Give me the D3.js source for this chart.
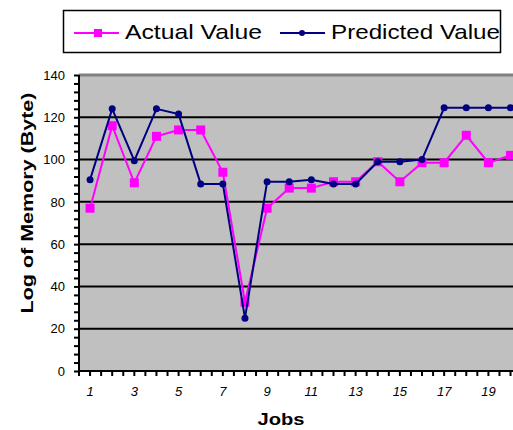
<!DOCTYPE html>
<html>
<head>
<meta charset="utf-8">
<script src="https://cdn.jsdelivr.net/npm/d3@7"></script>
<style>
  body { margin: 0; background: #fff; }
  svg { display: block; font-family: Arial, "Liberation Sans", sans-serif; }
</style>
</head>
<body>
<div id="chart"></div>
<script>
// chart data
const jobs = d3.range(1, 21);
const actualValue = [77, 116, 89, 111, 114, 114, 94, 32.5, 77, 86.5, 86.5, 89.5, 89.5, 99, 89.5, 98.5, 98.5, 111.5, 98.5, 102];
const predictedValue = [90.5, 124, 99.5, 124, 121.5, 88.5, 88.5, 25, 89.5, 89.5, 90.5, 88.5, 88.5, 99, 99, 100, 124.5, 124.5, 124.5, 124.5];
const yTicks = [0, 20, 40, 60, 80, 100, 120, 140];
const xTickLabels = [1, 3, 5, 7, 9, 11, 13, 15, 17, 19];

const width = 513, height = 430;
const plot = { left: 79, top: 75, bottom: 371, right: 521.6 };

const svg = d3.select('#chart').append('svg')
  .attr('width', width)
  .attr('height', height);

const xScale = d3.scaleBand()
  .domain(jobs)
  .range([plot.left, plot.right])
  .padding(0);

const yScale = d3.scaleLinear()
  .domain([0, 140])
  .range([plot.bottom, plot.top]);

const cx = (d) => xScale(d) + xScale.bandwidth() / 2;

// plot area background
svg.append('rect')
  .attr('x', plot.left)
  .attr('y', plot.top)
  .attr('width', plot.right - plot.left)
  .attr('height', plot.bottom - plot.top)
  .attr('fill', '#c0c0c0');

svg.append('line')
  .attr('x1', plot.left).attr('x2', plot.right)
  .attr('y1', plot.top).attr('y2', plot.top)
  .attr('stroke', '#808080')
  .attr('stroke-width', 3);

// gridlines
svg.append('g')
  .selectAll('line')
  .data(yTicks.filter((d) => d > 0 && d < 140))
  .join('line')
  .attr('x1', plot.left).attr('x2', plot.right)
  .attr('y1', (d) => yScale(d)).attr('y2', (d) => yScale(d))
  .attr('stroke', '#000')
  .attr('stroke-width', 2);

// y axis
const yAxis = svg.append('g')
  .attr('transform', `translate(${plot.left},0)`)
  .call(d3.axisLeft(yScale).tickValues(d3.range(0, 141, 4)).tickSize(5).tickFormat(''));
yAxis.select('.domain').attr('stroke-width', 2).attr('d', `M0,${plot.bottom}V${plot.top}`);
yAxis.selectAll('.tick line').attr('stroke-width', 2);

svg.append('g')
  .selectAll('text')
  .data(yTicks)
  .join('text')
  .attr('x', 65)
  .attr('y', (d) => yScale(d))
  .attr('dy', '0.36em')
  .attr('text-anchor', 'end')
  .attr('font-size', 13)
  .text((d) => d);

// x axis
const halfTicks = d3.range(0, 41).map((i) => plot.left + i * xScale.bandwidth() / 2);
svg.append('g')
  .selectAll('line')
  .data(halfTicks)
  .join('line')
  .attr('x1', (d) => d).attr('x2', (d) => d)
  .attr('y1', plot.bottom).attr('y2', plot.bottom + 5)
  .attr('stroke', '#000')
  .attr('stroke-width', 2);

svg.append('line')
  .attr('x1', plot.left - 1).attr('x2', plot.right)
  .attr('y1', plot.bottom).attr('y2', plot.bottom)
  .attr('stroke', '#000')
  .attr('stroke-width', 2);

svg.append('g')
  .selectAll('text')
  .data(xTickLabels)
  .join('text')
  .attr('x', (d) => cx(d))
  .attr('y', 391)
  .attr('dy', '0.36em')
  .attr('text-anchor', 'middle')
  .attr('font-size', 13)
  .attr('font-style', 'italic')
  .text((d) => d);

// axis titles
svg.append('text')
  .attr('x', 281)
  .attr('y', 425)
  .attr('text-anchor', 'middle')
  .attr('font-size', 17)
  .attr('font-weight', 'bold')
  .attr('textLength', 47)
  .attr('lengthAdjust', 'spacingAndGlyphs')
  .text('Jobs');

svg.append('text')
  .attr('transform', 'translate(33,203) rotate(-90)')
  .attr('text-anchor', 'middle')
  .attr('font-size', 17)
  .attr('font-weight', 'bold')
  .attr('textLength', 221)
  .attr('lengthAdjust', 'spacingAndGlyphs')
  .text('Log of Memory (Byte)');

// series
const line = d3.line()
  .x((d, i) => cx(jobs[i]))
  .y((d) => yScale(d));

svg.append('path')
  .datum(actualValue)
  .attr('d', line)
  .attr('fill', 'none')
  .attr('stroke', '#ff00ff')
  .attr('stroke-width', 2);

svg.append('g')
  .selectAll('rect')
  .data(actualValue)
  .join('rect')
  .attr('x', (d, i) => cx(jobs[i]) - 4.5)
  .attr('y', (d) => yScale(d) - 4.5)
  .attr('width', 9)
  .attr('height', 9)
  .attr('fill', '#ff00ff');

svg.append('path')
  .datum(predictedValue)
  .attr('d', line)
  .attr('fill', 'none')
  .attr('stroke', '#000080')
  .attr('stroke-width', 2);

svg.append('g')
  .selectAll('circle')
  .data(predictedValue)
  .join('circle')
  .attr('cx', (d, i) => cx(jobs[i]))
  .attr('cy', (d) => yScale(d))
  .attr('r', 3.5)
  .attr('fill', '#000080');

// legend
const legend = svg.append('g');
legend.append('rect')
  .attr('x', 63.5).attr('y', 10.5)
  .attr('width', 437).attr('height', 42)
  .attr('fill', '#fff')
  .attr('stroke', '#000')
  .attr('stroke-width', 1.5);

legend.append('line')
  .attr('x1', 74).attr('x2', 119).attr('y1', 33).attr('y2', 33)
  .attr('stroke', '#ff00ff').attr('stroke-width', 2);
legend.append('rect')
  .attr('x', 94).attr('y', 29).attr('width', 8).attr('height', 8)
  .attr('fill', '#ff00ff');
legend.append('text')
  .attr('x', 125).attr('y', 39)
  .attr('font-size', 21)
  .attr('textLength', 137)
  .attr('lengthAdjust', 'spacingAndGlyphs')
  .text('Actual Value');

legend.append('line')
  .attr('x1', 280).attr('x2', 325).attr('y1', 33).attr('y2', 33)
  .attr('stroke', '#000080').attr('stroke-width', 2);
legend.append('circle')
  .attr('cx', 302).attr('cy', 33).attr('r', 3)
  .attr('fill', '#000080');
legend.append('text')
  .attr('x', 331).attr('y', 39)
  .attr('font-size', 21)
  .attr('textLength', 169)
  .attr('lengthAdjust', 'spacingAndGlyphs')
  .text('Predicted Value');
</script>
</body>
</html>
